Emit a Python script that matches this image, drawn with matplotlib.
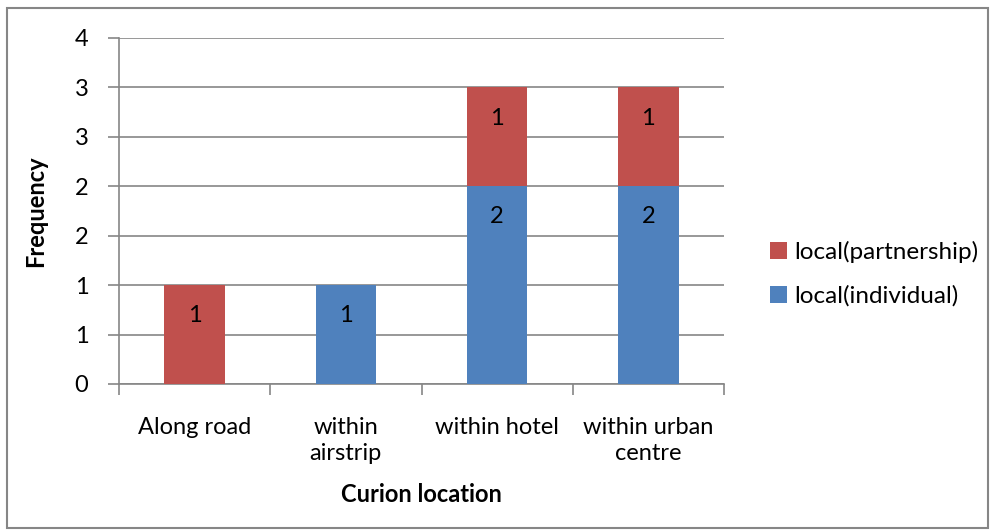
import matplotlib
matplotlib.use("Agg")
import matplotlib.pyplot as plt
from matplotlib.patches import Rectangle

categories = ["Along road", "within\nairstrip", "within hotel", "within urban\ncentre"]
individual = [0, 1, 2, 2]
partnership = [1, 0, 1, 1]
ytick_values = [0, 0.5, 1, 1.5, 2, 2.5, 3, 3.5]
ytick_labels = ["0", "1", "1", "2", "2", "3", "3", "4"]

blue = "#4F81BD"
red = "#C0504D"
grid_c = "#868686"

plt.rcParams['font.family'] = ['Lato', 'DejaVu Sans']

fig = plt.figure(figsize=(9.93, 5.32), dpi=100)
ax = fig.add_axes([119/993, 1-384/532, (724-119)/993, (384-38)/532])

x = list(range(len(categories)))
w = 0.4
ax.bar(x, individual, width=w, color=blue, label="local(individual)", zorder=3)
ax.bar(x, partnership, width=w, bottom=individual, color=red, label="local(partnership)", zorder=3)

for i in x:
    if individual[i] > 0:
        ax.text(i, individual[i] - 0.31, str(individual[i]), ha='center', va='center', fontsize=17, zorder=4)
    if partnership[i] > 0:
        ax.text(i, individual[i] + partnership[i] - 0.31, str(partnership[i]), ha='center', va='center', fontsize=17, zorder=4)

ax.set_xlim(-0.5, len(categories) - 0.5)
ax.set_ylim(0, 3.5)
ax.set_yticks(ytick_values)
ax.set_yticklabels(ytick_labels, fontsize=17)
ax.yaxis.grid(True, color=grid_c, linewidth=1.2, zorder=0)
ax.set_axisbelow(True)

ax.set_xticks(x)
ax.set_xticklabels(categories, fontsize=17, linespacing=1.25)
ax.tick_params(axis='x', length=0, pad=24)
ax.set_xticks([i - 0.5 for i in range(len(categories) + 1)], minor=True)
ax.tick_params(axis='x', which='minor', length=8, color=grid_c, width=1.2)
ax.tick_params(axis='y', length=8, color=grid_c, width=1.2, pad=14)

for s in ['top', 'right']:
    ax.spines[s].set_visible(False)
for s in ['left', 'bottom']:
    ax.spines[s].set_color(grid_c)
    ax.spines[s].set_linewidth(1.2)

ax.set_ylabel("Frequency", fontsize=17, fontweight='bold', labelpad=20)
ax.set_xlabel("Curion location", fontsize=17, fontweight='bold', labelpad=14)

h, l = ax.get_legend_handles_labels()
leg = fig.legend(h[::-1], l[::-1], loc='center left', bbox_to_anchor=(748/993, 1-274/532),
                 frameon=False, fontsize=17.5, handlelength=0.7, handleheight=0.7,
                 handletextpad=0.3, labelspacing=0.9)

fig.patches.append(Rectangle((7/993, 4/532), 981/993, 520/532, transform=fig.transFigure,
                             fill=False, edgecolor=grid_c, linewidth=1.5))

fig.savefig("out.png", dpi=100)
